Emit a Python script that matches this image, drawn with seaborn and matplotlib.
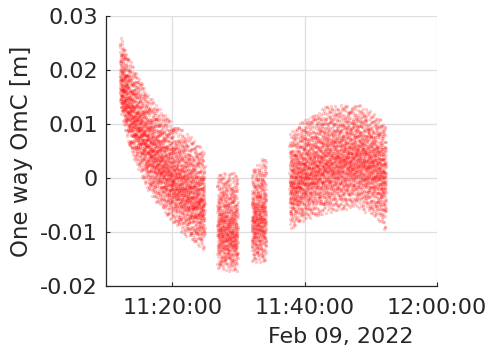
import numpy as np
import pandas as pd
import matplotlib
matplotlib.use("Agg")
import matplotlib.pyplot as plt
import seaborn as sns

# ---- data (minutes after 11:00, OmC in metres) ----
# Each pass: knot times, upper / lower envelope and densest level of the cloud
seg1_t     = [12.1, 13.6, 16.6, 20.0, 22.7, 24.9]
seg1_upper = [0.0265, 0.0219, 0.0150, 0.0104, 0.0077, 0.0052]
seg1_lower = [0.0130, 0.0050, -0.0030, -0.0083, -0.0115, -0.0135]
seg1_mode  = [0.0160, 0.0120, 0.0050, -0.0010, -0.0040, -0.0060]

seg2_t     = [26.8, 29.9]
seg2_upper = [0.0010, 0.0010]
seg2_lower = [-0.0170, -0.0174]
seg2_mode  = [-0.0100, -0.0120]

seg3_t     = [32.0, 34.2]
seg3_upper = [0.0015, 0.0043]
seg3_lower = [-0.0157, -0.0157]
seg3_mode  = [-0.0090, -0.0080]

seg4_t     = [37.7, 40.0, 43.5, 48.0, 51.1, 52.3]
seg4_upper = [0.0083, 0.0110, 0.0135, 0.0137, 0.0115, 0.0098]
seg4_lower = [-0.0096, -0.0078, -0.0066, -0.0053, -0.0078, -0.0100]
seg4_mode  = [-0.0022, 0.0000, 0.0020, 0.0030, 0.0020, 0.0000]

seg_counts = [2700, 650, 480, 3000]

x_ticks = [20, 40, 60]
x_tick_labels = ["11:20:00", "11:40:00", "12:00:00"]
y_ticks = [-0.02, -0.01, 0, 0.01, 0.02, 0.03]
y_tick_labels = ["-0.02", "-0.01", "0", "0.01", "0.02", "0.03"]
date_label = "Feb 09, 2022"
y_label = "One way OmC [m]"


def halton(i, base):
    f, r = 1.0, 0.0
    while i > 0:
        f /= base
        r += f * (i % base)
        i //= base
    return r


def cloud(t, up, lo, md, n):
    """Fill the read envelope with a deterministic (leaped Halton) point cloud."""
    idx = np.arange(1, n + 1) * 409
    ut = np.array([halton(i, 2) for i in idx])
    uv = np.array([halton(i, 3) for i in idx])
    um = np.array([halton(i, 5) for i in idx])
    tt = t[0] + ut * (t[-1] - t[0])
    a = np.interp(tt, t, lo)
    b = np.interp(tt, t, up)
    c = np.clip(np.interp(tt, t, md), a + 1e-9, b - 1e-9)
    p = (c - a) / (b - a)
    tri = np.where(uv < p,
                   a + np.sqrt(uv * (b - a) * (c - a)),
                   b - np.sqrt((1 - uv) * (b - a) * (b - c)))
    uni = a + uv * (b - a)
    v = np.where(um < 0.6, tri, uni)
    return tt, v


segs = [
    (seg1_t, seg1_upper, seg1_lower, seg1_mode),
    (seg2_t, seg2_upper, seg2_lower, seg2_mode),
    (seg3_t, seg3_upper, seg3_lower, seg3_mode),
    (seg4_t, seg4_upper, seg4_lower, seg4_mode),
]
frames = []
for (t, up, lo, md), n in zip(segs, seg_counts):
    tt, vv = cloud(np.array(t), np.array(up), np.array(lo), np.array(md), n)
    frames.append(pd.DataFrame({"t": tt, "omc": vv}))
df = pd.concat(frames, ignore_index=True)

# ---- plotting ----
sns.set_theme(style="white")
plt.rcParams["font.family"] = ["DejaVu Sans"]
txt = "#262626"

fig = plt.figure(figsize=(4.9, 3.53), dpi=100)
ax = fig.add_axes([106 / 490, 1 - 286 / 353, 331 / 490, 270 / 353])

sns.scatterplot(data=df, x="t", y="omc", color="red", s=6, alpha=0.2,
                linewidth=0, ax=ax, legend=False)

ax.set_xlim(10, 60)
ax.set_ylim(-0.02, 0.03)
ax.set_xticks(x_ticks)
ax.set_xticklabels(x_tick_labels)
ax.set_yticks(y_ticks)
ax.set_yticklabels(y_tick_labels)
ax.grid(True, color="#dedede", linewidth=0.9)
ax.set_axisbelow(True)

for s in ["top", "right"]:
    ax.spines[s].set_visible(False)
for s in ["left", "bottom"]:
    ax.spines[s].set_color(txt)
    ax.spines[s].set_linewidth(0.9)

ax.tick_params(axis="both", direction="in", length=3, width=0.8,
               colors=txt, labelsize=16, left=True, bottom=True)
ax.tick_params(axis="x", pad=9)
ax.tick_params(axis="y", pad=6)

ax.set_xlabel("")
ax.set_ylabel(y_label, fontsize=16.5, color=txt)
ax.yaxis.set_label_coords(-0.222, 0.5)

fig.text(340.5 / 490, 1 - 337 / 353, date_label, ha="center", va="center",
         fontsize=16, color=txt)

fig.savefig("out.png", dpi=100)
